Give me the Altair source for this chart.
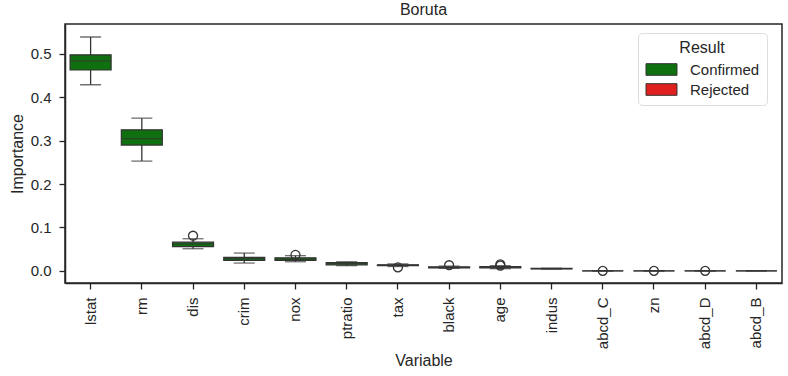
import altair as alt
import pandas as pd

variables = ["lstat", "rm", "dis", "crim", "nox", "ptratio", "tax", "black",
             "age", "indus", "abcd_C", "zn", "abcd_D", "abcd_B"]
result = ["Confirmed"] * 14
lo = [0.429, 0.253, 0.051, 0.018, 0.021, 0.012, 0.010, 0.006, 0.005, 0.004, 0.000, 0.000, 0.000, 0.000]
q1 = [0.463, 0.290, 0.056, 0.024, 0.024, 0.014, 0.012, 0.007, 0.007, 0.0045, 0.000, 0.000, 0.000, 0.000]
med = [0.484, 0.305, 0.062, 0.028, 0.027, 0.017, 0.013, 0.008, 0.008, 0.005, 0.000, 0.000, 0.000, 0.000]
q3 = [0.498, 0.325, 0.066, 0.031, 0.030, 0.019, 0.014, 0.009, 0.010, 0.0055, 0.000, 0.000, 0.000, 0.000]
hi = [0.539, 0.352, 0.074, 0.041, 0.035, 0.021, 0.016, 0.011, 0.012, 0.006, 0.000, 0.000, 0.000, 0.000]
out_var = ["dis", "nox", "tax", "black", "age", "age", "abcd_C", "zn", "abcd_D"]
out_val = [0.081, 0.037, 0.008, 0.013, 0.015, 0.012, 0.000, 0.000, 0.000]

df = pd.DataFrame({"Variable": variables, "Result": result, "lo": lo, "q1": q1,
                   "med": med, "q3": q3, "hi": hi})
dfo = pd.DataFrame({"Variable": out_var, "Importance": out_val})

FONT = "Liberation Sans"
DARK = "#262626"
xenc = alt.X("Variable:N", sort=variables, title="Variable",
             scale=alt.Scale(paddingInner=0, paddingOuter=0),
             axis=alt.Axis(labelAngle=-90, labelAlign="right", labelBaseline="middle",
                           labelFontSize=15, titleFontSize=16, tickSize=6, labelPadding=8,
                           titlePadding=4))
yscale = alt.Scale(domain=[-0.028, 0.569], nice=False, zero=False)
yax = alt.Axis(values=[0, 0.1, 0.2, 0.3, 0.4, 0.5], format=".1f", labelFontSize=15,
               titleFontSize=16, tickSize=6, grid=False, labelPadding=8, titlePadding=5)

color = alt.Color("Result:N",
                  scale=alt.Scale(domain=["Confirmed", "Rejected"], range=["#0f700f", "#e0201f"]),
                  legend=alt.Legend(title="Result", orient="none", legendX=573, legendY=9,
                                    titleFontSize=16, labelFontSize=15, titleAnchor="middle",
                                    titleFontWeight="normal", titleAlign="center", titlePadding=5,
                                    symbolType="M-2,-0.75L2,-0.75L2,0.75L-2,0.75Z",
                                    symbolSize=240, symbolStrokeColor="#333", symbolStrokeWidth=1,
                                    symbolOpacity=1, symbolOffset=8, padding=7, cornerRadius=4,
                                    strokeColor="#dddddd", fillColor="white", rowPadding=3,
                                    labelOffset=20))

base = alt.Chart(df)
whisk = base.mark_rule(color="#333", strokeWidth=1.3).encode(
    x=xenc, y=alt.Y("lo:Q", scale=yscale, axis=yax, title="Importance"), y2="hi:Q")
box = base.mark_bar(size=41, stroke="#333", strokeWidth=1.2, opacity=1).encode(
    x=xenc, y=alt.Y("q1:Q", scale=yscale), y2="q3:Q", color=color)
medt = base.mark_tick(size=41, thickness=1.3, color="#333", orient="horizontal").encode(
    x=xenc, y=alt.Y("med:Q", scale=yscale))
capl = base.mark_tick(size=21, thickness=1.3, color="#333", orient="horizontal").encode(
    x=xenc, y=alt.Y("lo:Q", scale=yscale))
caph = base.mark_tick(size=21, thickness=1.3, color="#333", orient="horizontal").encode(
    x=xenc, y=alt.Y("hi:Q", scale=yscale))
outl = alt.Chart(dfo).mark_point(size=80, filled=False, color="#333", strokeWidth=1.3, opacity=1).encode(
    x=xenc, y=alt.Y("Importance:Q", scale=yscale))

chart = alt.layer(whisk, box, medt, capl, caph, outl).properties(
    width=717, height=259,
    title=alt.Title("Boruta", fontSize=16, fontWeight="normal", font=FONT, color=DARK, offset=6),
    autosize=alt.AutoSizeParams(type="none"),
    padding={"left": 65, "top": 24, "right": 6, "bottom": 93},
).configure_view(stroke=DARK, strokeWidth=1.5).configure_axis(
    labelFont=FONT, titleFont=FONT, labelColor=DARK, titleColor=DARK, domainColor=DARK,
    tickColor=DARK, domainWidth=1.5, tickWidth=1.3, titleFontWeight="normal"
).configure_legend(labelFont=FONT, titleFont=FONT, labelColor=DARK, titleColor=DARK)

chart.save("out.html", embed_options={"renderer": "svg", "actions": False})
